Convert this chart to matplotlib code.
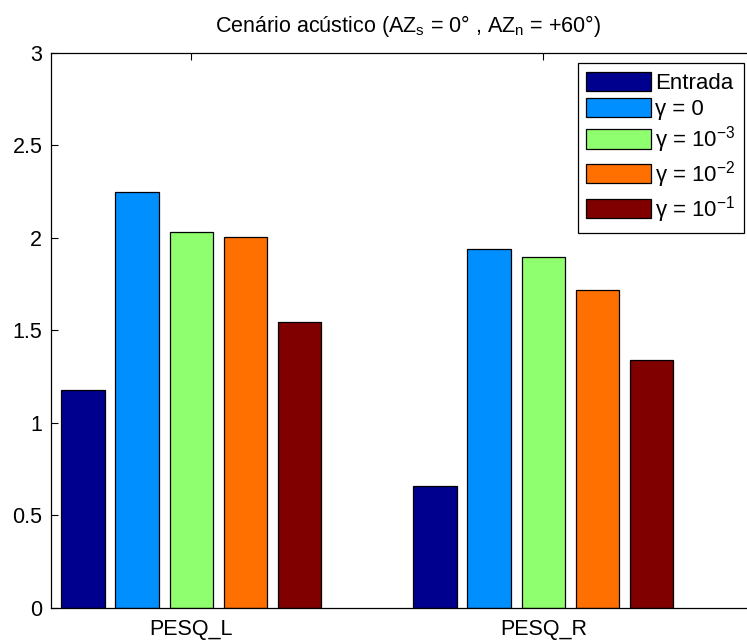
import matplotlib
matplotlib.use("Agg")
import matplotlib.pyplot as plt
import numpy as np

plt.rcParams['font.family'] = ['Liberation Sans', 'DejaVu Sans']
plt.rcParams['mathtext.fontset'] = 'custom'
plt.rcParams['mathtext.rm'] = 'Liberation Sans'
plt.rcParams['mathtext.it'] = 'Liberation Sans:italic'
plt.rcParams['mathtext.bf'] = 'Liberation Sans:bold'

categories = ['PESQ_L', 'PESQ_R']
series_labels = ['Entrada', 'γ = 0', 'γ = 10$^{-3}$', 'γ = 10$^{-2}$', 'γ = 10$^{-1}$']
entrada = [1.177, 0.656]
gamma_0 = [2.249, 1.941]
gamma_1e3 = [2.032, 1.894]
gamma_1e2 = [2.004, 1.716]
gamma_1e1 = [1.543, 1.339]
series_values = [entrada, gamma_0, gamma_1e3, gamma_1e2, gamma_1e1]
colors = ['#00008F', '#008FFF', '#8FFF70', '#FF7000', '#800000']
yticks = [0, 0.5, 1, 1.5, 2, 2.5, 3]
ytick_labels = ['0', '0.5', '1', '1.5', '2', '2.5', '3']

W, H = 747, 641
fig = plt.figure(figsize=(W / 100, H / 100), dpi=100)
left, right, top, bottom = 50.7, 765, 52.7, 607.7
ax = fig.add_axes([left / W, 1 - bottom / H, (right - left) / W, (bottom - top) / H])

n = len(series_values)
step = 0.154
width = 0.1236
x = np.arange(1, len(categories) + 1)
for i, (vals, lab, col) in enumerate(zip(series_values, series_labels, colors)):
    ax.bar(x + (i - (n - 1) / 2) * step, vals, width=width, color=col,
           edgecolor='black', linewidth=0.9, label=lab, zorder=2)

ax.set_ylim(0, 3)
ax.set_xlim(0.6006, 2 + (right - 543.3) / 352)
ax.set_yticks(yticks)
ax.set_yticklabels(ytick_labels)
ax.set_xticks(x)
ax.set_xticklabels(categories)
ax.tick_params(direction='in', length=5, width=0.8, labelsize=15.5,
               top=True, right=True)
ax.tick_params(axis='y', pad=6)
ax.tick_params(axis='x', pad=8)
for s in ax.spines.values():
    s.set_linewidth(0.9)

ax.set_title('Cenário acústico (AZ$_\\mathregular{s}$ = 0° , AZ$_\\mathregular{n}$ = +60°)',
             fontsize=15.5, pad=15)

leg = ax.legend(loc='upper right', bbox_to_anchor=(744 / W, 1 - 63.3 / H),
                bbox_transform=fig.transFigure, borderaxespad=0,
                fontsize=16, handlelength=2.9, handleheight=0.95,
                handletextpad=0.2, labelspacing=0.18, borderpad=0.38,
                fancybox=False, framealpha=1, edgecolor='black')
leg.get_frame().set_linewidth(0.9)

fig.savefig('out.png', dpi=100)
